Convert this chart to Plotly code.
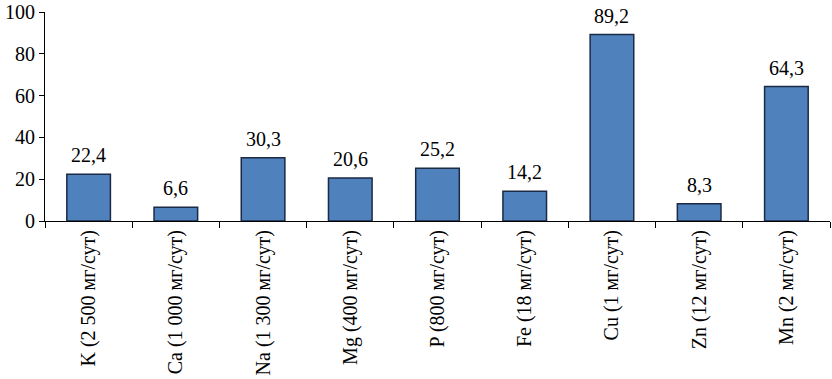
import plotly.graph_objects as go

categories = ["K (2 500 мг/сут)", "Ca (1 000 мг/сут)", "Na (1 300 мг/сут)", "Mg (400 мг/сут)",
              "P (800 мг/сут)", "Fe (18 мг/сут)", "Cu (1 мг/сут)", "Zn (12 мг/сут)", "Mn (2 мг/сут)"]
values = [22.4, 6.6, 30.3, 20.6, 25.2, 14.2, 89.2, 8.3, 64.3]
labels = [f"{v:.1f}".replace(".", ",") for v in values]
y_ticks = [0, 20, 40, 60, 80, 100]

font = "Liberation Serif, Times New Roman, serif"

fig = go.Figure(go.Bar(
    x=categories, y=values,
    marker=dict(color="#4F81BD", line=dict(color="#1B2A45", width=1.5)),
    cliponaxis=False,
))

for c, v, t in zip(categories, values, labels):
    fig.add_annotation(x=c, y=v, text=t, showarrow=False, yanchor="bottom", yshift=6,
                       font=dict(family=font, size=20, color="black"))

fig.update_layout(
    width=832, height=379,
    margin=dict(l=45, r=2, t=12, b=158, autoexpand=False),
    plot_bgcolor="white", paper_bgcolor="white",
    bargap=0.5, showlegend=False,
    font=dict(family=font, color="black"),
)
fig.update_xaxes(
    showline=True, linecolor="black", linewidth=1,
    ticks="outside", tickson="boundaries", ticklen=6, tickcolor="black",
    tickangle=-90, tickfont=dict(family=font, size=20, color="black"),
    showgrid=False, automargin=False,
)
fig.update_yaxes(
    range=[0, 100], tickvals=y_ticks,
    showline=True, linecolor="black", linewidth=1,
    ticks="outside", ticklen=5, tickcolor="black",
    tickfont=dict(family=font, size=20, color="black"),
    showgrid=False, zeroline=False, automargin=False,
    ticklabeloverflow="allow",
)

fig.write_html("out.html", config={"displayModeBar": False},
               post_script="document.body.style.margin='0';")
